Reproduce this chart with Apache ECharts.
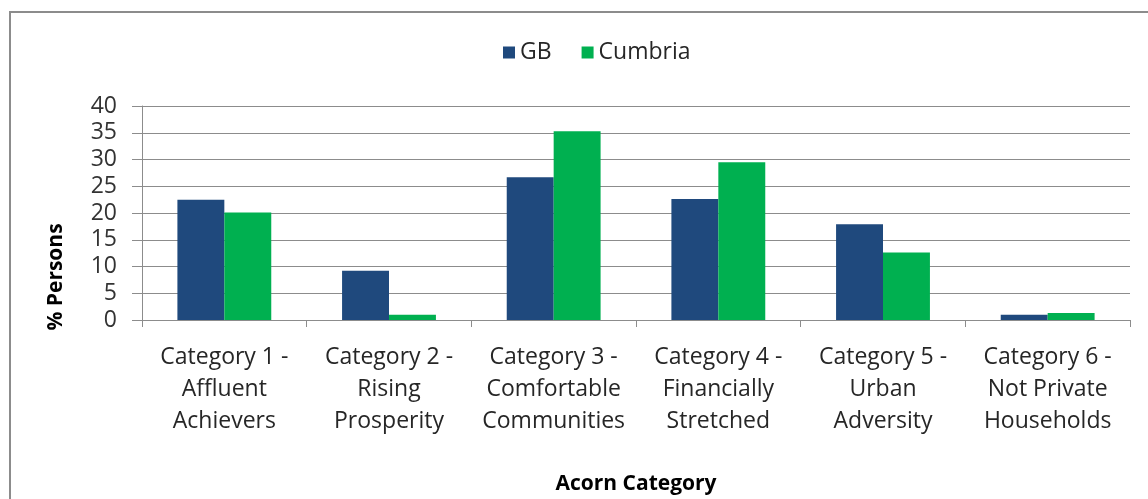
<!DOCTYPE html>
<html><head><meta charset="utf-8">
<script src="https://cdn.jsdelivr.net/npm/echarts@6/dist/echarts.min.js"></script>
<style>html,body{margin:0;padding:0;background:#fff}#c{width:1148px;height:499px}</style>
</head><body><div id="c"></div>
<script>
const categories = [
  "Category 1 -\nAffluent\nAchievers",
  "Category 2 -\nRising\nProsperity",
  "Category 3 -\nComfortable\nCommunities",
  "Category 4 -\nFinancially\nStretched",
  "Category 5 -\nUrban\nAdversity",
  "Category 6 -\nNot Private\nHouseholds"
];
const gbValues = [22.5, 9.2, 26.7, 22.6, 17.9, 1.0];
const cumbriaValues = [20.1, 1.0, 35.3, 29.5, 12.6, 1.3];
const yTicks = {min: 0, max: 40, interval: 5};

const FONT = "'Open Sans', sans-serif";
const chart = echarts.init(document.getElementById('c'), null, {renderer: 'canvas'});
chart.setOption({
  animation: false,
  backgroundColor: '#fff',
  textStyle: {fontFamily: FONT},
  legend: {
    top: 36, left: 498,
    itemWidth: 12, itemHeight: 12, itemGap: 30, itemTextGap: 4,
    icon: 'rect',
    textStyle: {fontSize: 23, color: '#262626', fontFamily: FONT},
    data: ['GB', 'Cumbria']
  },
  grid: {left: 142, right: 18, top: 106, bottom: 179, containLabel: false},
  xAxis: {
    type: 'category',
    data: categories,
    name: 'Acorn Category',
    nameLocation: 'middle',
    nameGap: 154,
    nameTextStyle: {fontSize: 21, fontWeight: 'bold', color: '#000', fontFamily: FONT},
    axisLine: {lineStyle: {color: '#8c8c8c', width: 1}},
    axisTick: {show: true, length: 7, alignWithLabel: false, lineStyle: {color: '#8c8c8c'}},
    axisLabel: {fontSize: 23, color: '#262626', lineHeight: 32, margin: 21, interval: 0, fontFamily: FONT}
  },
  yAxis: {
    type: 'value',
    min: yTicks.min, max: yTicks.max, interval: yTicks.interval,
    axisLine: {show: true, lineStyle: {color: '#8c8c8c', width: 1}},
    axisTick: {show: true, length: 10, lineStyle: {color: '#8c8c8c'}},
    axisLabel: {fontSize: 23, color: '#333', margin: 25, fontFamily: FONT},
    splitLine: {lineStyle: {color: '#8c8c8c', width: 1}}
  },
  series: [
    {name: 'GB', type: 'bar', data: gbValues, barGap: '0%', barCategoryGap: '43%',
     itemStyle: {color: '#1f497d'}},
    {name: 'Cumbria', type: 'bar', data: cumbriaValues, barGap: '0%', barCategoryGap: '43%',
     itemStyle: {color: '#00b050'}}
  ],
  graphic: [
    {type: 'rect', shape: {x: 10, y: 12, width: 1200, height: 600},
     style: {fill: 'none', stroke: '#8c8c8c', lineWidth: 2}, silent: true, z: -1},
    {type: 'text', x: 56, y: 277, rotation: Math.PI / 2,
     style: {text: '% Persons', fontSize: 21, fontWeight: 'bold', fill: '#000', fontFamily: FONT,
             align: 'center', verticalAlign: 'middle'}}
  ]
});
</script></body></html>
